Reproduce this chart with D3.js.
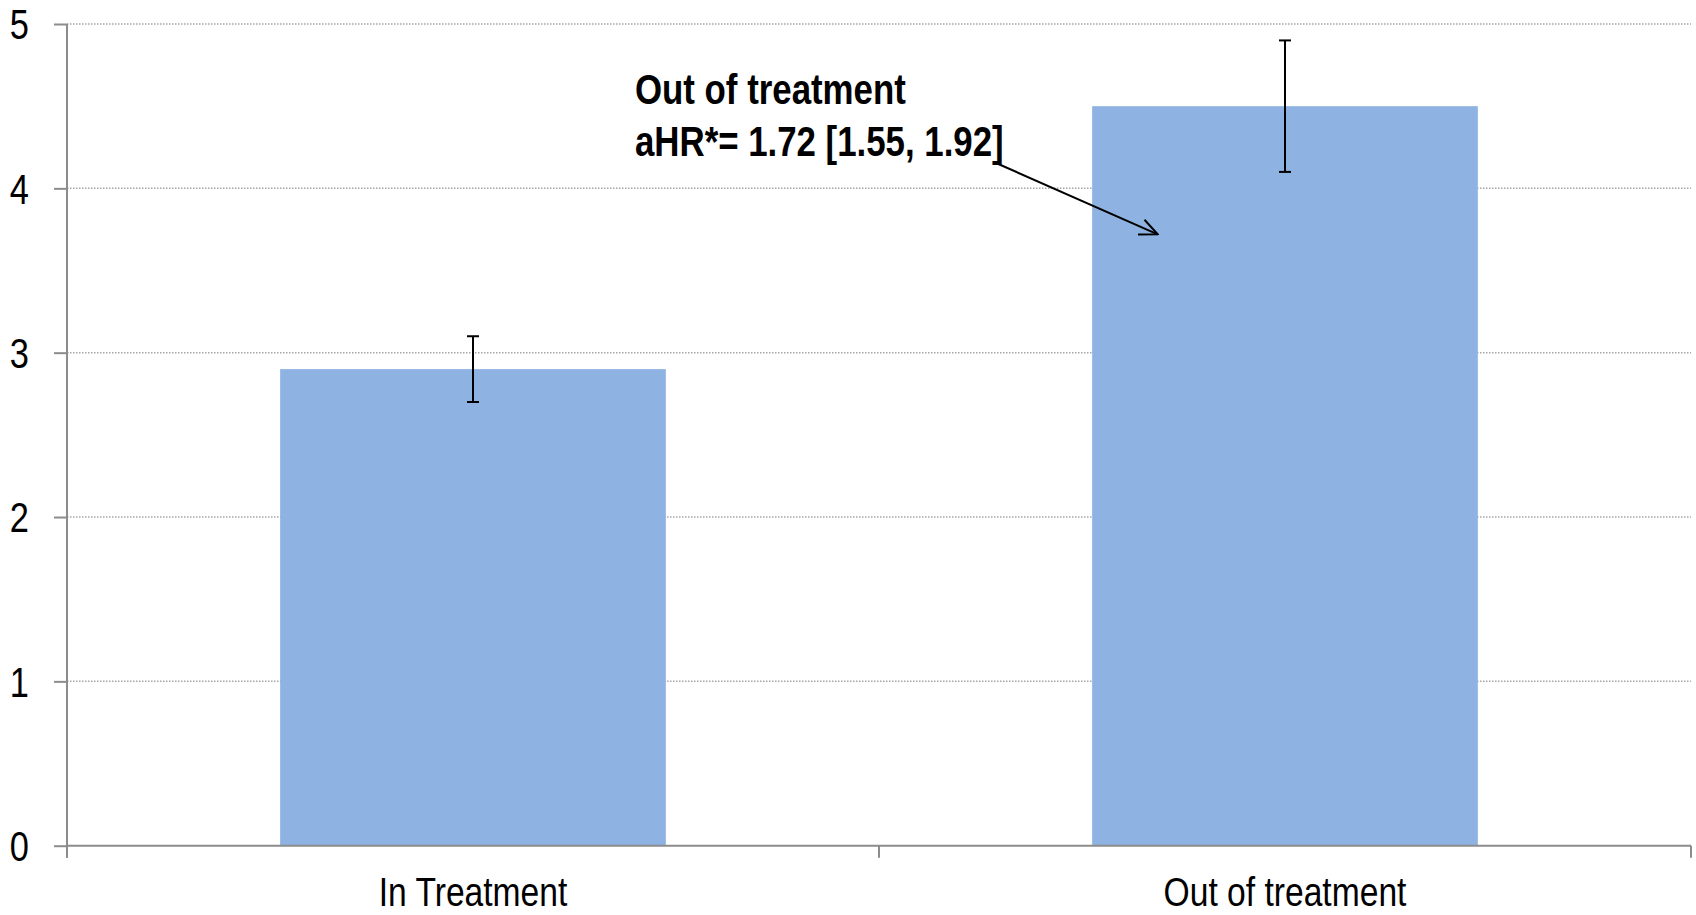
<!DOCTYPE html>
<html>
<head>
<meta charset="utf-8">
<script src="https://cdn.jsdelivr.net/npm/d3@7"></script>
<style>
  html, body { margin: 0; padding: 0; background: #fff; }
  svg { display: block; }
  text { font-family: "Liberation Sans", Arial, sans-serif; }
</style>
</head>
<body>
<svg id="chart" width="1696" height="915"></svg>
<script>
// ---- data ----
const categories = ["In Treatment", "Out of treatment"];
const values = [2.9, 4.5];
const errLow = [2.7, 4.1];
const errHigh = [3.1, 4.9];
const yTicks = [0, 1, 2, 3, 4, 5];
const annotationLines = ["Out of treatment", "aHR*= 1.72 [1.55, 1.92]"];
const annotationTarget = { category: "Out of treatment", value: 3.72 };

(function () {
// ---- layout ----
const svg = d3.select("#chart");
const mLeft = 67, mRight = 1691, mTop = 24, mBottom = 845.7;
const narrow = 0.82; // emulate a condensed face

const x = d3.scaleBand().domain(categories).range([mLeft, mRight])
  .paddingInner(0.525).paddingOuter(0.2625);
const y = d3.scaleLinear().domain([0, 5]).range([mBottom, mTop]);

const axisColor = "#8c8c8c";

// gridlines
svg.append("g").selectAll("line")
  .data(yTicks.filter(d => d > 0))
  .join("line")
  .attr("x1", mLeft).attr("x2", mRight)
  .attr("y1", d => y(d)).attr("y2", d => y(d))
  .attr("stroke", "#a6a6a6")
  .attr("stroke-width", 1.5)
  .attr("stroke-dasharray", "1.5,1.5");

// bars
svg.append("g").selectAll("rect")
  .data(categories)
  .join("rect")
  .attr("x", d => x(d))
  .attr("width", x.bandwidth())
  .attr("y", (d, i) => y(values[i]))
  .attr("height", (d, i) => y(0) - y(values[i]))
  .attr("fill", "#8EB3E2");

// error bars
const eb = svg.append("g").attr("stroke", "#000").attr("stroke-width", 2);
categories.forEach((c, i) => {
  const cx = x(c) + x.bandwidth() / 2;
  eb.append("line").attr("x1", cx).attr("x2", cx).attr("y1", y(errLow[i])).attr("y2", y(errHigh[i]));
  eb.append("line").attr("x1", cx - 6).attr("x2", cx + 6).attr("y1", y(errLow[i])).attr("y2", y(errLow[i]));
  eb.append("line").attr("x1", cx - 6).attr("x2", cx + 6).attr("y1", y(errHigh[i])).attr("y2", y(errHigh[i]));
});

// y axis
const yAxis = d3.axisLeft(y).tickValues(yTicks).tickSize(13).tickPadding(25).tickFormat(d3.format("d"));
const gy = svg.append("g").attr("transform", `translate(${mLeft},0)`).call(yAxis);
gy.select(".domain").remove();
gy.append("line").attr("x1", 0).attr("x2", 0).attr("y1", mTop).attr("y2", mBottom + 12)
  .attr("stroke", axisColor).attr("stroke-width", 2);
gy.selectAll(".tick line").attr("stroke", axisColor).attr("stroke-width", 2);
gy.selectAll(".tick text").attr("fill", "#000").style("font-size", "42px")
  .attr("x", -38 / narrow)
  .attr("transform", `scale(${narrow},1)`)
  .attr("dy", "0.35em");

// x axis (ticks at band boundaries)
const gx = svg.append("g");
gx.append("line").attr("x1", mLeft).attr("x2", mRight).attr("y1", mBottom).attr("y2", mBottom)
  .attr("stroke", axisColor).attr("stroke-width", 2);
const boundaries = [mLeft, ...categories.slice(1).map(c => x(c) - x.step() * x.paddingInner() / 2), mRight];
gx.selectAll("line.tk").data(boundaries).join("line").attr("class", "tk")
  .attr("x1", d => d).attr("x2", d => d).attr("y1", mBottom).attr("y2", mBottom + 12)
  .attr("stroke", axisColor).attr("stroke-width", 2);
gx.selectAll("text").data(categories).join("text")
  .attr("transform", d => `translate(${x(d) + x.bandwidth() / 2},906) scale(${narrow},1)`)
  .attr("text-anchor", "middle")
  .style("font-size", "41px")
  .attr("fill", "#000")
  .text(d => d);

// annotation
const ann = svg.append("g");
const t = ann.append("text")
  .attr("transform", `translate(635,104) scale(0.81,1)`)
  .style("font-size", "43px").style("font-weight", "bold").attr("fill", "#000");
annotationLines.forEach((s, i) => {
  t.append("tspan").attr("x", 0).attr("y", i * 52).text(s);
});

svg.append("defs").append("marker")
  .attr("id", "arrow").attr("viewBox", "0 0 20 20").attr("refX", 19).attr("refY", 10)
  .attr("markerWidth", 20).attr("markerHeight", 20).attr("markerUnits", "userSpaceOnUse")
  .attr("orient", "auto")
  .append("path").attr("d", "M1,2 L19,10 L1,18").attr("fill", "none")
  .attr("stroke", "#000").attr("stroke-width", 2);

const tipX = x(annotationTarget.category) + x.bandwidth() * 0.17;
const tipY = y(annotationTarget.value);
ann.append("line")
  .attr("x1", 996).attr("y1", 163)
  .attr("x2", tipX).attr("y2", tipY)
  .attr("stroke", "#000").attr("stroke-width", 2)
  .attr("marker-end", "url(#arrow)");
})();
</script>
</body>
</html>
